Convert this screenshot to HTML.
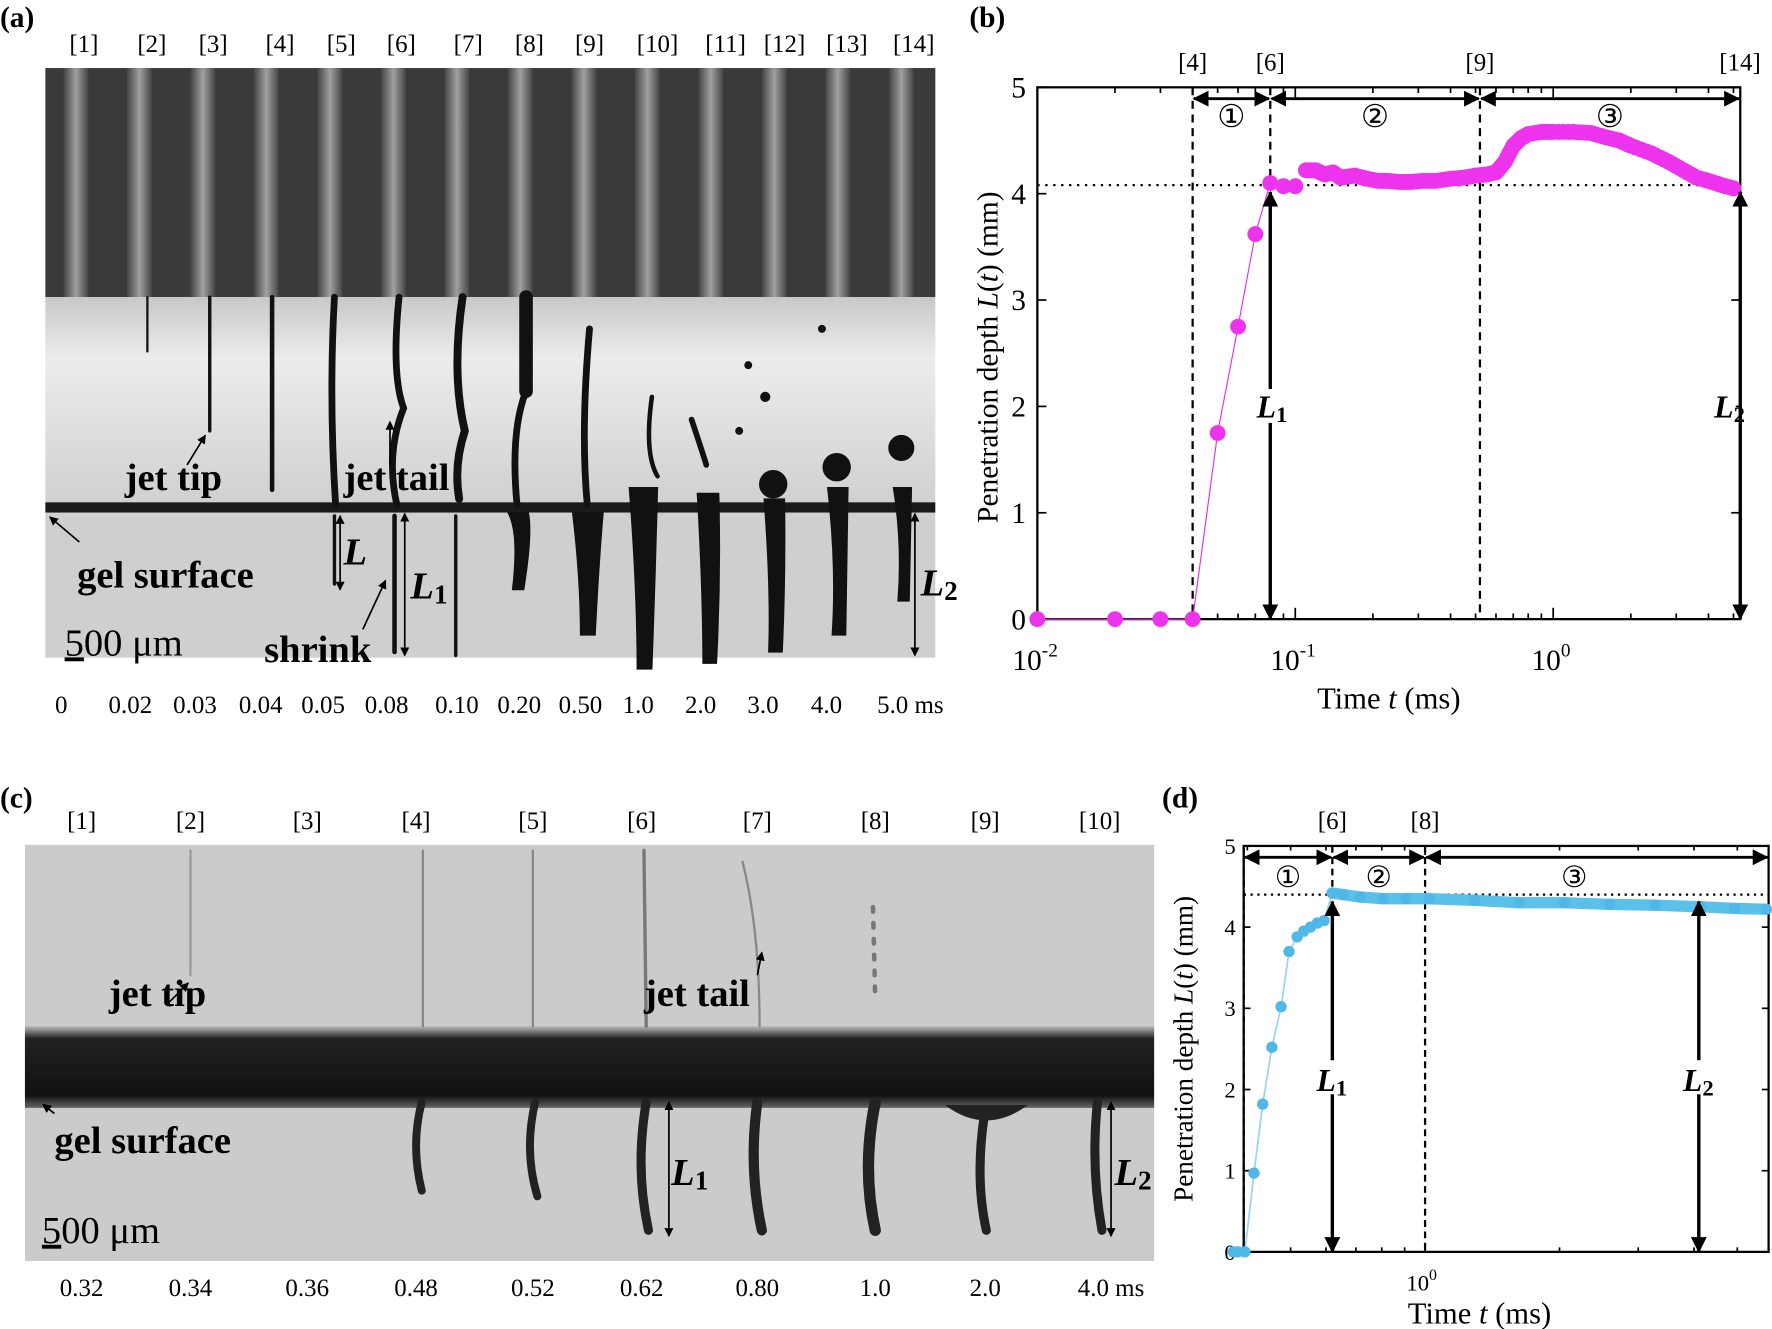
<!DOCTYPE html>
<html><head><meta charset="utf-8"><style>
html,body{margin:0;padding:0;background:#fff;}
svg{display:block;font-family:"Liberation Serif",serif;}
</style></head><body>
<svg id="fig" width="1772" height="1329" viewBox="0 0 1563 1172" preserveAspectRatio="none" xmlns="http://www.w3.org/2000/svg">
<defs>
<linearGradient id="mid" x1="0" y1="0" x2="0" y2="1"><stop offset="0" stop-color="#c8c8c8"/><stop offset="0.3" stop-color="#ececec"/><stop offset="1" stop-color="#d0d0d0"/></linearGradient>
<linearGradient id="tube" x1="0" y1="0" x2="1" y2="0"><stop offset="0" stop-color="#444"/><stop offset="0.5" stop-color="#a0a0a0"/><stop offset="1" stop-color="#444"/></linearGradient>
<linearGradient id="band" x1="0" y1="0" x2="0" y2="1"><stop offset="0" stop-color="#bbb"/><stop offset="0.15" stop-color="#222"/><stop offset="0.85" stop-color="#111"/><stop offset="1" stop-color="#666"/></linearGradient>
<marker id="ah" markerWidth="8" markerHeight="8" refX="7" refY="4" orient="auto-start-reverse" markerUnits="userSpaceOnUse"><path d="M0,0 L8,4 L0,8z" fill="#000"/></marker>
<marker id="ahb" markerWidth="14" markerHeight="14" refX="13" refY="7" orient="auto-start-reverse" markerUnits="userSpaceOnUse"><path d="M0,0 L14,7 L0,14z" fill="#000"/></marker>
</defs>

<!-- Panel a -->
<g>
<text x="0" y="24" font-size="26" font-weight="bold">(a)</text>
<rect x="40" y="60" width="785" height="202" fill="#3a3a3a"/>
<g id="tubes"></g>
<rect x="40" y="262" width="785" height="183" fill="url(#mid)"/>
<rect x="40" y="452" width="785" height="128" fill="#cfcfcf"/>
<rect x="40" y="443" width="785" height="9" fill="#1a1a1a"/>
<g id="jetsA" stroke="#111" fill="#111" stroke-linecap="round">
<line x1="130" y1="262" x2="130" y2="310" stroke-width="2"/>
<line x1="185" y1="262" x2="185" y2="380" stroke-width="3"/>
<line x1="240" y1="262" x2="240" y2="432" stroke-width="4"/>
<path d="M295 262 Q290 350 296 445" stroke-width="6" fill="none"/>
<line x1="295" y1="455" x2="295" y2="515" stroke-width="3"/>
<path d="M352 262 Q345 330 356 360 Q340 400 350 445" stroke-width="6" fill="none"/>
<line x1="348" y1="455" x2="348" y2="575" stroke-width="4"/>
<path d="M408 262 Q398 330 410 380 Q400 410 405 440" stroke-width="7" fill="none"/>
<line x1="402" y1="455" x2="402" y2="578" stroke-width="3"/>
<line x1="464" y1="262" x2="464" y2="345" stroke-width="12"/>
<path d="M464 345 Q450 380 456 445" stroke-width="6" fill="none"/>
<path d="M448 452 Q458 470 452 520 L462 520 Q470 470 466 452z"/>
<path d="M520 290 Q512 380 518 445" stroke-width="6" fill="none"/>
<path d="M505 452 Q512 510 512 560 L525 560 Q528 500 532 452z"/>
<path d="M575 350 Q568 400 580 420" stroke-width="4" fill="none"/>
<path d="M555 430 Q562 520 562 590 L575 590 Q578 510 580 430z"/>
<path d="M610 370 Q620 400 623 410" stroke-width="5" fill="none"/>
<path d="M615 435 Q620 520 620 585 L632 585 Q636 510 634 435z"/>
<circle cx="682" cy="427" r="12"/>
<path d="M674 440 Q680 520 678 575 L690 575 Q693 510 692 440z"/>
<circle cx="738" cy="412" r="12"/>
<path d="M730 430 Q738 500 734 560 L746 560 Q747 500 748 430z"/>
<circle cx="795" cy="395" r="11"/>
<path d="M788 430 Q796 480 792 530 L802 530 Q803 480 804 430z"/>
<circle cx="660" cy="322" r="3"/><circle cx="675" cy="350" r="4"/><circle cx="652" cy="380" r="3"/><circle cx="725" cy="290" r="3"/>
</g>
<g font-size="22" text-anchor="middle" id="labA"></g>
<g font-size="22" text-anchor="middle" id="timeA"></g>
<g font-size="34" font-weight="bold">
<text x="110" y="432">jet tip</text>
<text x="303" y="432">jet tail</text>
<text x="68" y="518">gel surface</text>
<text x="233" y="584">shrink</text>
</g>
<text x="57" y="578" font-size="34"><tspan text-decoration="underline">5</tspan>00 μm</text>
<g font-size="34" font-style="italic" font-weight="bold">
<text x="303" y="498">L</text>
<text x="362" y="528">L<tspan font-size="24" dy="4" font-style="normal">1</tspan></text>
<text x="812" y="525">L<tspan font-size="24" dy="4" font-style="normal">2</tspan></text>
</g>
<g stroke="#000" stroke-width="1.5" fill="none">
<line x1="165" y1="410" x2="181" y2="384" marker-end="url(#ah)"/>
<line x1="344" y1="410" x2="344" y2="372" marker-end="url(#ah)"/>
<line x1="70" y1="478" x2="44" y2="456" marker-end="url(#ah)"/>
<line x1="320" y1="555" x2="340" y2="512" marker-end="url(#ah)"/>
<line x1="300" y1="455" x2="300" y2="520" marker-end="url(#ah)" marker-start="url(#ah)"/>
<line x1="357" y1="453" x2="357" y2="578" marker-end="url(#ah)" marker-start="url(#ah)"/>
<line x1="807" y1="453" x2="807" y2="578" marker-end="url(#ah)" marker-start="url(#ah)"/>
</g>
</g>

<!-- Panel b -->
<g>
<text x="855" y="24" font-size="26" font-weight="bold">(b)</text>
<rect x="915" y="77" width="620" height="469" fill="none" stroke="#000" stroke-width="2"/>
<g id="axB"></g>
<g id="dataB"></g>
<text transform="translate(880,315) rotate(-90)" font-size="26" text-anchor="middle">Penetration depth <tspan font-style="italic">L</tspan>(<tspan font-style="italic">t</tspan>) (mm)</text>
<text x="1225" y="625" font-size="27" text-anchor="middle">Time <tspan font-style="italic">t</tspan> (ms)</text>
</g>

<!-- Panel c -->
<g>
<text x="0" y="712" font-size="26" font-weight="bold">(c)</text>
<rect x="22" y="745" width="996" height="367" fill="#cbcbcb"/>
<rect x="22" y="905" width="996" height="72" fill="url(#band)"/>
<g stroke="#222" fill="#222" stroke-linecap="round">
<line x1="168" y1="750" x2="168" y2="860" stroke="#999" stroke-width="2"/>
<line x1="373" y1="750" x2="373" y2="905" stroke="#888" stroke-width="2"/>
<line x1="470" y1="750" x2="470" y2="905" stroke="#888" stroke-width="2"/>
<line x1="568" y1="750" x2="570" y2="905" stroke="#777" stroke-width="3"/>
<path d="M655 760 Q670 820 670 905" stroke="#888" stroke-width="2" fill="none"/>
<path d="M770 800 L772 880" stroke="#777" stroke-width="4" stroke-dasharray="4 10"/>
<path d="M372 972 Q362 1010 372 1050" stroke-width="7" fill="none"/>
<path d="M472 972 Q462 1015 474 1055" stroke-width="7" fill="none"/>
<path d="M570 972 Q560 1030 572 1085" stroke-width="8" fill="none"/>
<path d="M668 972 Q660 1030 672 1085" stroke-width="9" fill="none"/>
<path d="M772 972 Q760 1030 772 1085" stroke-width="10" fill="none"/>
<path d="M835 975 Q870 1000 905 975z"/>
<path d="M868 985 Q860 1040 870 1085" stroke-width="8" fill="none"/>
<path d="M968 972 Q962 1030 972 1085" stroke-width="8" fill="none"/>
</g>
<g font-size="22" text-anchor="middle" id="labC"></g>
<g font-size="22" text-anchor="middle" id="timeC"></g>
<g font-size="34" font-weight="bold">
<text x="96" y="887">jet tip</text>
<text x="568" y="887">jet tail</text>
<text x="48" y="1017">gel surface</text>
</g>
<text x="37" y="1096" font-size="34"><tspan text-decoration="underline">5</tspan>00 μm</text>
<g font-size="34" font-style="italic" font-weight="bold">
<text x="592" y="1045">L<tspan font-size="24" dy="4" font-style="normal">1</tspan></text>
<text x="983" y="1045">L<tspan font-size="24" dy="4" font-style="normal">2</tspan></text>
</g>
<g stroke="#000" stroke-width="1.5" fill="none">
<line x1="148" y1="885" x2="166" y2="867" marker-end="url(#ah)"/>
<line x1="668" y1="860" x2="672" y2="840" marker-end="url(#ah)"/>
<line x1="48" y1="982" x2="38" y2="974" marker-end="url(#ah)"/>
<line x1="590" y1="972" x2="590" y2="1090" marker-end="url(#ah)" marker-start="url(#ah)"/>
<line x1="980" y1="972" x2="980" y2="1090" marker-end="url(#ah)" marker-start="url(#ah)"/>
</g>
</g>

<!-- Panel d -->
<g>
<text x="1025" y="712" font-size="26" font-weight="bold">(d)</text>
<rect x="1097" y="746" width="463" height="358" fill="none" stroke="#000" stroke-width="2"/>
<g id="axD"></g>
<g id="dataD"></g>
<text transform="translate(1052,925) rotate(-90)" font-size="24" text-anchor="middle">Penetration depth <tspan font-style="italic">L</tspan>(<tspan font-style="italic">t</tspan>) (mm)</text>
<text x="1305" y="1167" font-size="27" text-anchor="middle">Time <tspan font-style="italic">t</tspan> (ms)</text>
</g>
</svg>
<script>
const NS="http://www.w3.org/2000/svg";
// Panel b data
const timesB=[0.01,0.02,0.03,0.04,0.05,0.06,0.07,0.08,0.09,0.1,0.11,0.12,0.13,0.14,0.15,0.17,0.19,0.21,0.23,0.25,0.28,0.31,0.35,0.4,0.45,0.5,0.55,0.6,0.65,0.7,0.75,0.8,0.9,1.0,1.2,1.4,1.6,1.8,2.0,2.4,2.8,3.2,3.6,4.0,4.5,5.0];
const depthB=[0,0,0,0,1.75,2.75,3.62,4.1,4.07,4.07,4.22,4.22,4.18,4.2,4.15,4.17,4.14,4.12,4.12,4.11,4.11,4.12,4.12,4.14,4.15,4.17,4.18,4.2,4.3,4.45,4.52,4.56,4.58,4.58,4.58,4.57,4.53,4.5,4.45,4.38,4.3,4.22,4.15,4.12,4.08,4.05];
const yTicksB=[0,1,2,3,4,5];
const xDecB=[-2,-1,0];
const markersB=[0.04,0.08,0.52,5.3];
const markerLabB=["[4]","[6]","[9]","[14]"];
// Panel d data
const timesD=[0.372,0.381,0.395,0.414,0.433,0.454,0.476,0.496,0.517,0.535,0.554,0.574,0.594,0.619,0.656,0.717,0.806,0.905,1.02,1.29,1.62,2.05,2.59,3.27,4.14,4.93,5.81];
const depthD=[0,0,0,0.97,1.82,2.52,3.02,3.7,3.88,3.95,4.0,4.05,4.08,4.42,4.4,4.37,4.35,4.35,4.35,4.33,4.3,4.3,4.28,4.27,4.25,4.23,4.22];
const yTicksD=[0,1,2,3,4,5];
const markersD=[0.355,0.62,1.0,6.0];
const markerLabD=["","[6]","[8]",""];
const framesA=["[1]","[2]","[3]","[4]","[5]","[6]","[7]","[8]","[9]","[10]","[11]","[12]","[13]","[14]"];
const timesA=["0","0.02","0.03","0.04","0.05","0.08","0.10","0.20","0.50","1.0","2.0","3.0","4.0","5.0 ms"];
const framesC=["[1]","[2]","[3]","[4]","[5]","[6]","[7]","[8]","[9]","[10]"];
const timesC=["0.32","0.34","0.36","0.48","0.52","0.62","0.80","1.0","2.0","4.0 ms"];

function mk(tag,attrs,parent){const e=document.createElementNS(NS,tag);for(const k in attrs)e.setAttribute(k,attrs[k]);parent.appendChild(e);return e;}
function txt(parent,x,y,s,attrs){const t=mk('text',Object.assign({x:x,y:y},attrs||{}),parent);t.textContent=s;return t;}

const xA=[74,134,188,247,301,354,413,467,520,580,640,692,747,806];
const xTA=[54,115,172,230,285,341,403,458,512,563,618,673,729,803];
framesA.forEach((s,i)=>{const t=txt(document.getElementById('labA'),xA[i],46,s);

});
timesA.forEach((s,i)=>{const t=txt(document.getElementById('timeA'),xTA[i],629,s);

});
const tubes=document.getElementById('tubes');
for(let i=0;i<14;i++){const r=mk('rect',{x:40+56*i+16,y:60,width:22,height:202,fill:'url(#tube)'},tubes);

}
const xC=[72,168,271,367,470,566,668,772,869,970];
framesC.forEach((s,i)=>{const t=txt(document.getElementById('labC'),xC[i],731,s);

});
timesC.forEach((s,i)=>{const t=txt(document.getElementById('timeC'),xC[i]+(i==9?10:0),1143,s);

});

// Panel b chart
(function(){
const x0=915,x1=1535,y0=546,y1=77,dec=227.5;
const X=t=>x0+(Math.log10(t)+2)*dec, Y=v=>y0-(v/5)*(y0-y1);
const ax=document.getElementById('axB');
yTicksB.forEach(v=>{mk('line',{x1:x0,y1:Y(v),x2:x0+8,y2:Y(v),stroke:'#000','stroke-width':1.5},ax);mk('line',{x1:x1,y1:Y(v),x2:x1-8,y2:Y(v),stroke:'#000','stroke-width':1.5},ax);
const t=txt(ax,x0-10,Y(v)+9,String(v),{'font-size':26,'text-anchor':'end'});

});
xDecB.forEach(d=>{for(let m=1;m<10;m++){const t=Math.pow(10,d)*m;const x=X(t);if(x>x1)break;const len=m==1?10:5;
mk('line',{x1:x,y1:y0,x2:x,y2:y0-len,stroke:'#000','stroke-width':1.5},ax);mk('line',{x1:x,y1:y1,x2:x,y2:y1+len,stroke:'#000','stroke-width':1.5},ax);}
const g=txt(ax,X(Math.pow(10,d))-2,y0+45,'10',{'font-size':26,'text-anchor':'middle'});


const s=mk('tspan',{'font-size':17,dy:-12},g);s.textContent=String(d);});
mk('line',{x1:x0,y1:Y(4.08),x2:x1,y2:Y(4.08),stroke:'#000','stroke-width':2,'stroke-dasharray':'2 5'},ax);
markersB.forEach((t,i)=>{const x=Math.min(X(t),x1);if(i<3)mk('line',{x1:x,y1:y1,x2:x,y2:y0,stroke:'#000','stroke-width':2,'stroke-dasharray':'7 5'},ax);
const l=txt(ax,x,62,markerLabB[i],{'font-size':22,'text-anchor':'middle'});

});
const ya=87;const xs=markersB.map(t=>Math.min(X(t),x1));const circ=["①","②","③"];
for(let i=0;i<3;i++){mk('line',{x1:xs[i]+1,y1:ya,x2:xs[i+1]-1,y2:ya,stroke:'#000','stroke-width':2.5,'marker-start':'url(#ahb)','marker-end':'url(#ahb)'},ax);
const c=txt(ax,(xs[i]+xs[i+1])/2,112,circ[i],{'font-size':28,'text-anchor':'middle'});

}
const ds=document.getElementById('dataB');
mk('path',{d:'M'+timesB.slice(3,9).map((t,i)=>X(t)+','+Y(depthB[i+3])).join(' L'),stroke:'#e030e0','stroke-width':1,fill:'none'},ds);
mk('line',{x1:x0,y1:y0,x2:X(0.04),y2:y0,stroke:'#e030e0','stroke-width':1},ds);
timesB.forEach((t,i)=>{const c=mk('circle',{cx:X(t),cy:Y(depthB[i]),r:7,fill:'#ee33ee'},ds);

});
for(let i=10;i<timesB.length-1;i++){for(let k=1;k<4;k++){const f=k/4;const t=Math.pow(10,Math.log10(timesB[i])*(1-f)+Math.log10(timesB[i+1])*f);const v=depthB[i]*(1-f)+depthB[i+1]*f;
const c=mk('circle',{cx:X(t),cy:Y(v),r:7,fill:'#ee33ee'},ds);

}}
[[X(0.08),'L1'],[x1,'L2']].forEach(([x,n])=>{mk('line',{x1:x,y1:Y(4.08)+6,x2:x,y2:y0,stroke:'#000','stroke-width':3,'marker-start':'url(#ahb)','marker-end':'url(#ahb)'},ds);
mk('rect',{x:x-(n=='L2'?24:12),y:343,width:(n=='L2'?20:26),height:30,fill:'#fff'},ds);
const t=txt(ds,x+(n=='L2'?-23:-12),368,'L',{'font-size':28,'font-style':'italic','font-weight':'bold'});


const s=mk('tspan',{'font-size':20,dy:4,'font-style':'normal'},t);s.textContent=n.slice(1);});
})();

// Panel d chart
(function(){
const x0=1097,x1=1560,y0=1104,y1=746,dec=394,ref=1257;
const X=t=>ref+Math.log10(t)*dec, Y=v=>y0-(v/5)*(y0-y1);
const ax=document.getElementById('axD');
yTicksD.forEach(v=>{mk('line',{x1:x0,y1:Y(v),x2:x0+6,y2:Y(v),stroke:'#000','stroke-width':1.5},ax);mk('line',{x1:x1,y1:Y(v),x2:x1-6,y2:Y(v),stroke:'#000','stroke-width':1.5},ax);
const t=txt(ax,x0-7,Y(v)+7,String(v),{'font-size':20,'text-anchor':'end'});

});
[0.4,0.5,0.6,0.7,0.8,0.9,1,2,3,4,5].forEach(t=>{const x=X(t);const len=t==1?8:4;mk('line',{x1:x,y1:y0,x2:x,y2:y0-len,stroke:'#000','stroke-width':1.5},ax);mk('line',{x1:x,y1:y1,x2:x,y2:y1+len,stroke:'#000','stroke-width':1.5},ax);});
const g=txt(ax,ref-3,1138,'10',{'font-size':20,'text-anchor':'middle'});


const s=mk('tspan',{'font-size':14,dy:-9},g);s.textContent='0';
mk('line',{x1:x0,y1:Y(4.4),x2:x1,y2:Y(4.4),stroke:'#000','stroke-width':2,'stroke-dasharray':'2 4'},ax);
const xs=markersD.map(t=>Math.max(x0,Math.min(X(t),x1)));
xs.forEach((x,i)=>{if(i<3)mk('line',{x1:x,y1:y1,x2:x,y2:y0,stroke:'#000','stroke-width':2,'stroke-dasharray':'6 4'},ax);
if(markerLabD[i]){const l=txt(ax,x,731,markerLabD[i],{'font-size':22,'text-anchor':'middle'});

}});
const circ=["①","②","③"];
for(let i=0;i<3;i++){mk('line',{x1:xs[i]+1,y1:756,x2:xs[i+1]-1,y2:756,stroke:'#000','stroke-width':2.5,'marker-start':'url(#ahb)','marker-end':'url(#ahb)'},ax);
const c=txt(ax,(xs[i]+xs[i+1])/2+(i==2?-20:0),782,circ[i],{'font-size':26,'text-anchor':'middle'});

}
const ds=document.getElementById('dataD');
mk('path',{d:'M'+timesD.map((t,i)=>X(t)+','+Y(depthD[i])).join(' L'),stroke:'#9ad4ee','stroke-width':1.5,fill:'none'},ds);
mk('path',{d:'M'+timesD.slice(13).map((t,i)=>X(t)+','+Y(depthD[i+13])).join(' L'),stroke:'#5bc0ea','stroke-width':10,fill:'none'},ds);
timesD.forEach((t,i)=>{const c=mk('circle',{cx:X(t),cy:Y(depthD[i]),r:5,fill:'#4fb8e8'},ds);

});
[[X(0.62),'L1',-14],[X(4.1),'L2',-14]].forEach(([x,n,o])=>{mk('line',{x1:x,y1:Y(4.4)+6,x2:x,y2:y0,stroke:'#000','stroke-width':3,'marker-start':'url(#ahb)','marker-end':'url(#ahb)'},ds);
mk('rect',{x:x-16,y:935,width:32,height:30,fill:'#fff'},ds);
const t=txt(ds,x+o,962,'L',{'font-size':28,'font-style':'italic','font-weight':'bold'});


const s=mk('tspan',{'font-size':20,dy:4,'font-style':'normal'},t);s.textContent=n.slice(1);});
})();
</script>
</body></html>
